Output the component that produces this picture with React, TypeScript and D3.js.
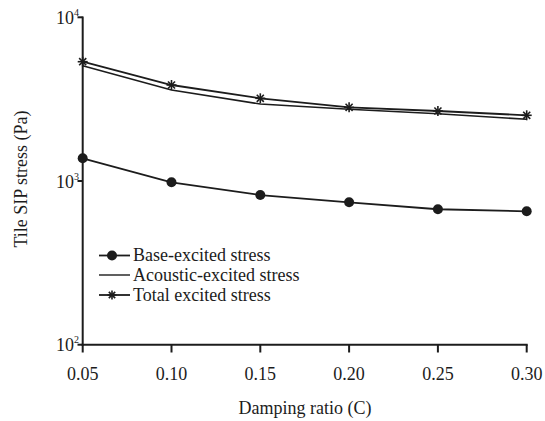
import React from "react";
import * as d3 from "d3";

const damping = [0.05, 0.1, 0.15, 0.2, 0.25, 0.3];
const baseStress = [1376, 982, 821, 741, 672, 653];
const acousticStress = [5062, 3596, 2953, 2742, 2577, 2382];
const totalStress = [5355, 3858, 3200, 2818, 2677, 2520];
const xTickLabels = ["0.05", "0.10", "0.15", "0.20", "0.25", "0.30"];
const yTickValues = [100, 1000, 10000];
const yTickExponents = ["2", "3", "4"];
const legendLabels = ["Base-excited stress", "Acoustic-excited stress", "Total excited stress"];

const W = 545;
const H = 421;
const FONT = "'Liberation Serif', 'Times New Roman', serif";
const INK = "#1c1c1c";

function Star({ cx, cy, r }: { cx: number; cy: number; r: number }) {
  const arms = [0, 45, 90, 135];
  return (
    <g>
      {arms.map((a) => {
        const rad = (a * Math.PI) / 180;
        const dx = Math.cos(rad) * r;
        const dy = Math.sin(rad) * r;
        return (
          <line key={a} x1={cx - dx} y1={cy - dy} x2={cx + dx} y2={cy + dy} stroke={INK} strokeWidth={1.6} />
        );
      })}
    </g>
  );
}

export default function App() {
  const x = d3.scaleLinear().domain([0.05, 0.3]).range([82.7, 526.7]);
  const y = d3.scaleLog().domain([100, 10000]).range([344.7, 17.3]);
  const line = d3
    .line<number>()
    .x((_, i) => x(damping[i]))
    .y((v) => y(v));

  const legendX0 = 99;
  const legendX1 = 130;
  const legendRows = [255.5, 275, 295];

  return (
    <svg
      width={W}
      height={H}
      style={{ position: "absolute", left: 0, top: 0, background: "#fff" }}
      fontFamily={FONT}
    >
      {/* axes */}
      <line x1={82.7} y1={16.5} x2={82.7} y2={345.7} stroke={INK} strokeWidth={2} />
      <line x1={81.7} y1={344.7} x2={527.7} y2={344.7} stroke={INK} strokeWidth={2} />
      {damping.map((d, i) => (
        <g key={"xt" + i}>
          <line x1={x(d)} y1={344.7} x2={x(d)} y2={352.5} stroke={INK} strokeWidth={2} />
          <text x={x(d)} y={379.5} textAnchor="middle" fontSize={18} fill={INK}>
            {xTickLabels[i]}
          </text>
        </g>
      ))}
      {yTickValues.map((v, i) => (
        <g key={"yt" + i}>
          <line x1={77.5} y1={y(v)} x2={82.7} y2={y(v)} stroke={INK} strokeWidth={2} />
          <text x={79} y={y(v) + 6.5} textAnchor="end" fontSize={18} fill={INK}>
            10
            <tspan dy={-8} fontSize={10}>
              {yTickExponents[i]}
            </tspan>
          </text>
        </g>
      ))}

      {/* axis titles */}
      <text x={305} y={414} textAnchor="middle" fontSize={18} fill={INK}>
        Damping ratio (C)
      </text>
      <text
        transform={`translate(27,179) rotate(-90)`}
        textAnchor="middle"
        fontSize={18}
        fill={INK}
      >
        Tile SIP stress (Pa)
      </text>

      {/* series */}
      <path d={line(acousticStress) || ""} fill="none" stroke={INK} strokeWidth={1.6} />
      <path d={line(totalStress) || ""} fill="none" stroke={INK} strokeWidth={1.8} />
      <path d={line(baseStress) || ""} fill="none" stroke={INK} strokeWidth={1.8} />
      {baseStress.map((v, i) => (
        <circle key={"b" + i} cx={x(damping[i])} cy={y(v)} r={5} fill={INK} />
      ))}
      {totalStress.map((v, i) => (
        <Star key={"t" + i} cx={x(damping[i])} cy={y(v)} r={5} />
      ))}

      {/* legend */}
      {legendLabels.map((lab, i) => (
        <g key={"lg" + i}>
          <line
            x1={legendX0}
            y1={legendRows[i]}
            x2={legendX1}
            y2={legendRows[i]}
            stroke={INK}
            strokeWidth={i === 1 ? 1.4 : 1.8}
          />
          {i === 0 && <circle cx={112} cy={legendRows[i]} r={5} fill={INK} />}
          {i === 2 && <Star cx={112} cy={legendRows[i]} r={4.5} />}
          <text x={133} y={legendRows[i] + 5.5} fontSize={18} fill={INK}>
            {lab}
          </text>
        </g>
      ))}
    </svg>
  );
}
